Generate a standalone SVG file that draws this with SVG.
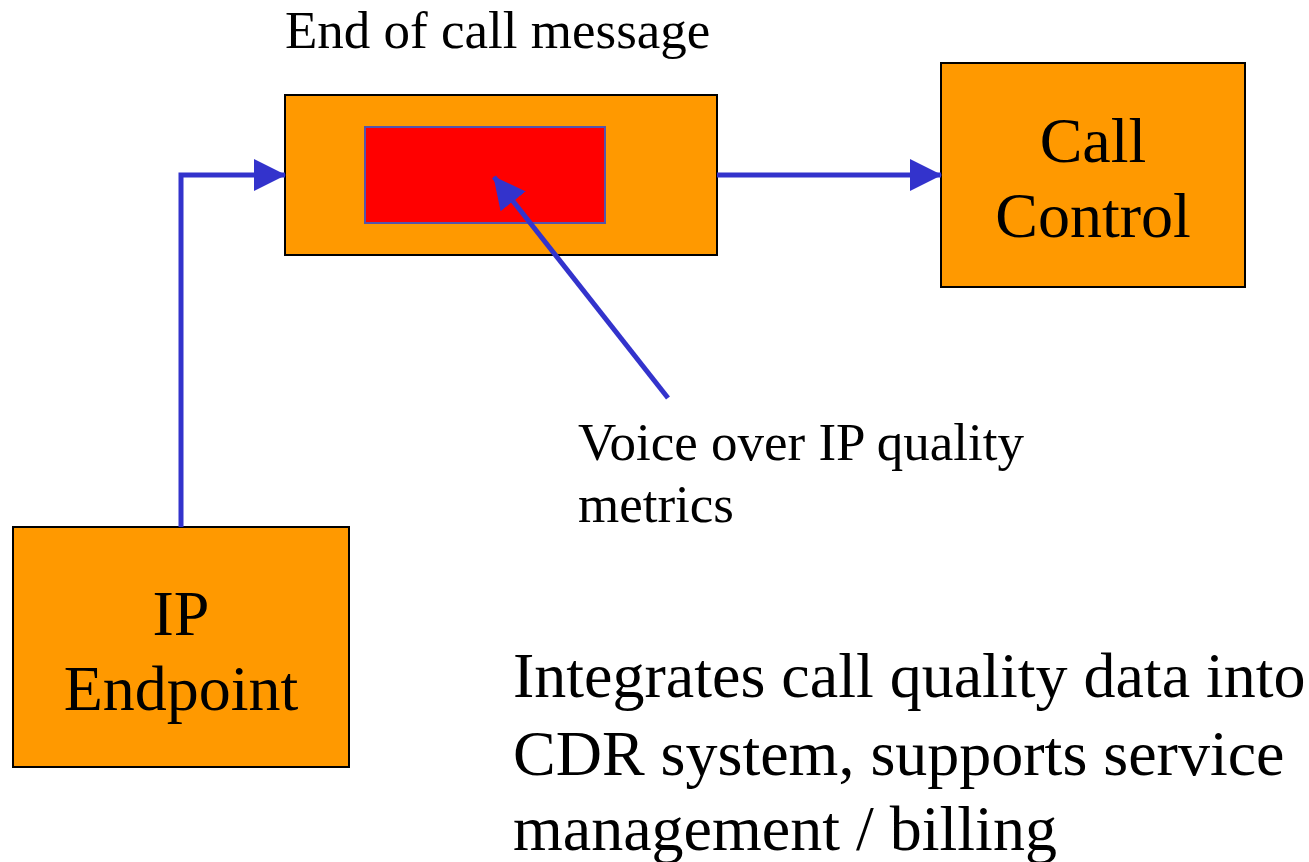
<svg xmlns="http://www.w3.org/2000/svg" width="1309" height="862" viewBox="0 0 1309 862">
<style>
.box{fill:#ff9900;stroke:#000;stroke-width:2}
.t{font-family:"Liberation Serif","Times New Roman",serif;fill:#000}
.big{font-size:64px}
.small{font-size:53px}
.conn{fill:none;stroke:#3333cc;stroke-width:5}
</style>
<defs>
<marker id="ah" markerUnits="userSpaceOnUse" markerWidth="32" markerHeight="32" viewBox="0 0 32 32" refX="31" refY="16" orient="auto">
<path d="M0,0 L32,16 L0,32 Z" fill="#3333cc"/>
</marker>
</defs>
<rect width="1309" height="862" fill="#fff"/>
<g id="end-of-call">
<rect class="box" x="285" y="95" width="432" height="160"/>
<rect x="365" y="127" width="240" height="96" fill="#ff0000" stroke="#5555aa" stroke-width="2"/>
<text class="t small" x="285" y="48">End of call message</text>
</g>
<g id="call-control">
<rect class="box" x="941" y="63" width="304" height="224"/>
<text class="t big" x="1093" y="162" text-anchor="middle">Call</text>
<text class="t big" x="1093" y="237" text-anchor="middle">Control</text>
</g>
<g id="ip-endpoint">
<rect class="box" x="13" y="527" width="336" height="240"/>
<text class="t big" x="181" y="635" text-anchor="middle">IP</text>
<text class="t big" x="181" y="710" text-anchor="middle">Endpoint</text>
</g>
<g id="voip-label">
<text class="t small" x="578" y="460">Voice over IP quality</text>
<text class="t small" x="578" y="522">metrics</text>
</g>
<g id="note">
<text class="t big" x="513" y="697">Integrates call quality data into</text>
<text class="t big" x="513" y="775">CDR system, supports service</text>
<text class="t big" x="513" y="850">management / billing</text>
</g>
<g id="connectors">
<path class="conn" d="M181,527 L181,175 L285,175" marker-end="url(#ah)"/>
<path class="conn" d="M717,175 L941,175" marker-end="url(#ah)"/>
<path class="conn" d="M668,398 L494,177" marker-end="url(#ah)"/>
</g>
</svg>
